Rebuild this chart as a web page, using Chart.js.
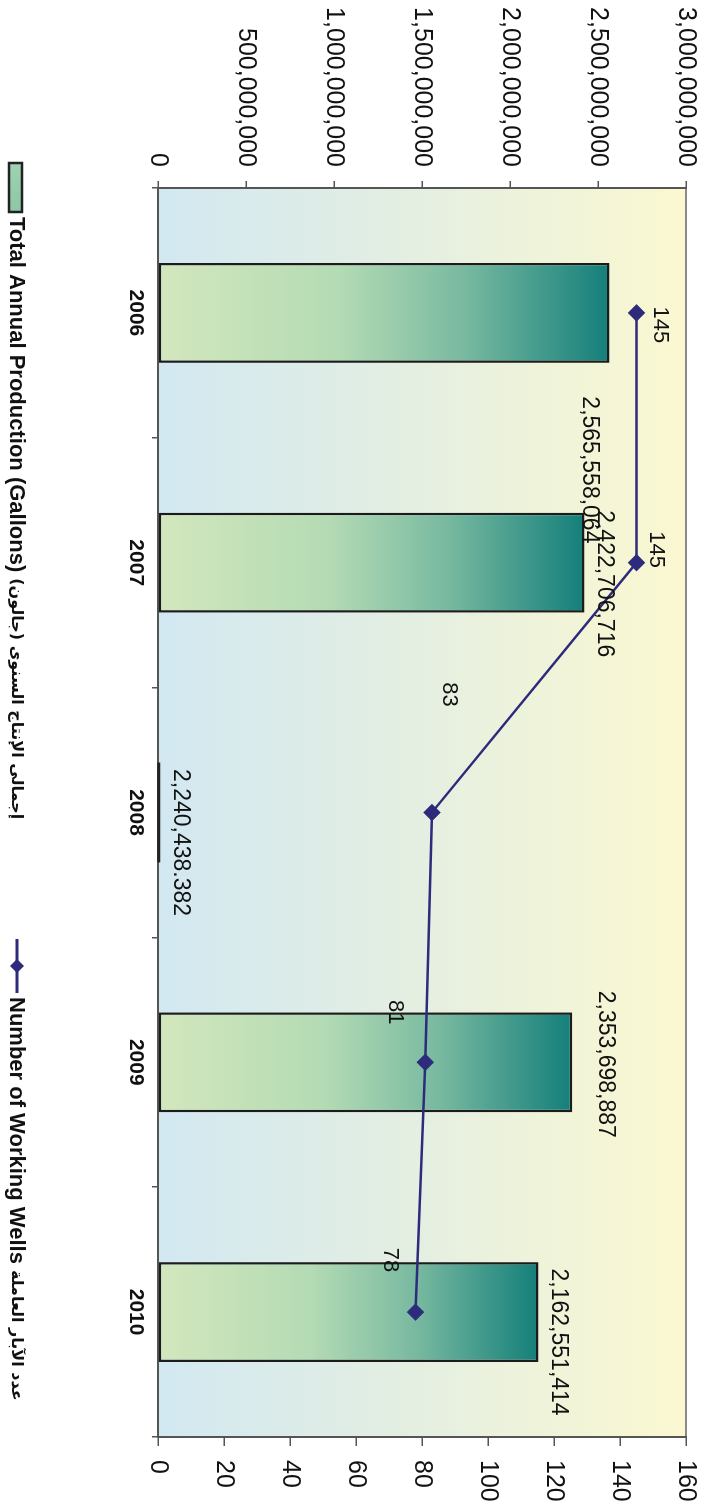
<!DOCTYPE html>
<html>
<head>
<meta charset="utf-8">
<script src="https://cdn.jsdelivr.net/npm/chart.js@4.4.1/dist/chart.umd.min.js"></script>
<style>
  html, body { margin:0; padding:0; background:#fff; overflow:hidden; }
  /* chart is drawn landscape, then turned a quarter clockwise like the scan */
  #wrap { position:absolute; left:0; top:0; width:1504px; height:707px;
          transform-origin:0 0; transform:translateX(707px) rotate(90deg); }
</style>
</head>
<body>
<div id="wrap"><canvas id="chart" width="1504" height="707"></canvas></div>
<script>
// DATA
const years = ['2006', '2007', '2008', '2009', '2010'];
const production = [2565558064, 2422706716, 2240438382, 2353698887, 2162551414];
const productionLabels = ['2,565,558,064', '2,422,706,716', '2,240,438.382', '2,353,698,887', '2,162,551,414'];
const wells = [145, 145, 83, 81, 78];
const prodAxis = { min: 0, max: 3000000000, step: 500000000 };
const wellsAxis = { min: 0, max: 160, step: 20 };
const legendText = [
  ['Total Annual Production (Gallons)', 'إجمالى الإنتاج السنوى (جالون)'],
  ['Number of Working Wells', 'عدد الآبار العاملة']
];

// the 2008 bar is missing in the source picture, only its label remains
const barDrawn = [true, true, false, true, true];

// label placement, as hand-moved in the original
const barLabelAnchor = ['top', 'top', 'base', 'top', 'top'];
const barLabelOffset = [[157, 20], [21, -20], [30, -22], [2, -33], [30, -20]];
const wellLabelOffset = [[12, -24], [-13, -20], [-118, -17], [-50, 30], [-52, 25]];

const FONT = '"Liberation Sans", Arial, "DejaVu Sans", sans-serif';
const LINE_COLOR = '#2e2b7c';
const AXIS_COLOR = '#555';

function barFill(ctx){
  if(!barDrawn[ctx.dataIndex]) return 'rgba(0,0,0,0)';
  const chart = ctx.chart;
  if(!chart.chartArea) return '#8cc4a6';
  const y = chart.scales.y;
  const base = y.getPixelForValue(0);
  const top = y.getPixelForValue(ctx.raw);
  const g = chart.ctx.createLinearGradient(0, base, 0, top);
  g.addColorStop(0, '#d3e7bd');
  g.addColorStop(0.4, '#b4dbb4');
  g.addColorStop(0.68, '#78b9a0');
  g.addColorStop(1, '#147f7a');
  return g;
}

// BACKGROUND + FRAME
const plotBg = {
  id: 'plotBg',
  beforeDraw(chart){
    const {ctx, chartArea: a} = chart;
    const g = ctx.createLinearGradient(0, a.bottom, 0, a.top);
    g.addColorStop(0, '#d2e8f1');
    g.addColorStop(0.5, '#e5efe1');
    g.addColorStop(1, '#fbf8d1');
    ctx.save();
    ctx.fillStyle = g;
    ctx.fillRect(a.left, a.top, a.right - a.left, a.bottom - a.top);
    ctx.strokeStyle = '#8a8a8a';
    ctx.lineWidth = 2;
    ctx.strokeRect(a.left, a.top, a.right - a.left, a.bottom - a.top);
    ctx.restore();
  }
};

// DATA LABELS
const valueLabels = {
  id: 'valueLabels',
  afterDatasetsDraw(chart){
    const ctx = chart.ctx;
    ctx.save();
    ctx.fillStyle = '#111';
    ctx.textAlign = 'center';
    ctx.textBaseline = 'middle';

    const bars = chart.getDatasetMeta(1).data;
    bars.forEach((el, i) => {
      if(!barDrawn[i]){
        ctx.strokeStyle = '#222';
        ctx.lineWidth = 3;
        ctx.beginPath();
        ctx.moveTo(el.x - el.width / 2, el.base);
        ctx.lineTo(el.x + el.width / 2, el.base);
        ctx.stroke();
      }
      ctx.font = '23px ' + FONT;
      const [dx, dy] = barLabelOffset[i];
      const y0 = barLabelAnchor[i] === 'base' ? el.base : el.y;
      ctx.fillText(productionLabels[i], el.x + dx, y0 + dy);
    });

    const pts = chart.getDatasetMeta(0).data;
    ctx.font = '22px ' + FONT;
    pts.forEach((el, i) => {
      const [dx, dy] = wellLabelOffset[i];
      ctx.fillText(String(wells[i]), el.x + dx, el.y + dy);
    });
    ctx.restore();
  }
};

// LEGEND
const legendBox = {
  id: 'legendBox',
  afterDraw(chart){
    const ctx = chart.ctx;
    const cy = 690;
    ctx.save();
    ctx.textBaseline = 'middle';
    ctx.fillStyle = '#111';

    // bar key
    const g = ctx.createLinearGradient(162, 0, 213, 0);
    g.addColorStop(0, '#9fd2b2');
    g.addColorStop(1, '#8cc7a6');
    ctx.fillStyle = g;
    ctx.fillRect(163, 685, 49, 13);
    ctx.strokeStyle = '#222';
    ctx.lineWidth = 2.5;
    ctx.strokeRect(163, 685, 49, 13);

    // line key
    ctx.strokeStyle = LINE_COLOR;
    ctx.fillStyle = LINE_COLOR;
    ctx.lineWidth = 3;
    ctx.beginPath();
    ctx.moveTo(939, cy); ctx.lineTo(993, cy);
    ctx.stroke();
    ctx.beginPath();
    ctx.moveTo(966 - 7, cy); ctx.lineTo(966, cy - 7); ctx.lineTo(966 + 7, cy); ctx.lineTo(966, cy + 7);
    ctx.closePath();
    ctx.fill();

    const starts = [217, 997];
    legendText.forEach(([en, ar], i) => {
      ctx.fillStyle = '#111';
      ctx.direction = 'ltr';
      ctx.textAlign = 'left';
      ctx.font = 'bold 22px ' + FONT;
      ctx.fillText(en, starts[i], cy + 1);
      const w = ctx.measureText(en).width;
      ctx.font = 'bold 16px "DejaVu Sans", sans-serif';
      ctx.direction = 'rtl';
      ctx.textAlign = 'left';
      ctx.fillText(ar, starts[i] + w + 6, cy + 1);
    });
    ctx.restore();
  }
};

// keep the plot frame where the original has it
function noEdgePad(s){ s.paddingTop = 0; s.paddingBottom = 0; }

// CHART
new Chart(document.getElementById('chart'), {
  data: {
    labels: years,
    datasets: [
      {
        type: 'line',
        label: legendText[1].join(' '),
        data: wells,
        yAxisID: 'y1',
        order: 0,
        borderColor: LINE_COLOR,
        borderWidth: 2.5,
        pointStyle: 'rectRot',
        pointRadius: 7,
        pointBackgroundColor: LINE_COLOR,
        pointBorderColor: LINE_COLOR,
        tension: 0
      },
      {
        type: 'bar',
        label: legendText[0].join(' '),
        data: production,
        yAxisID: 'y',
        order: 1,
        backgroundColor: barFill,
        borderColor: ctx => barDrawn[ctx.dataIndex] ? '#1c1c1c' : 'rgba(0,0,0,0)',
        borderWidth: 2.5,
        borderSkipped: false,
        barPercentage: 0.4,
        categoryPercentage: 1.0
      }
    ]
  },
  options: {
    responsive: false,
    animation: false,
    layout: { padding: { top: 21, left: 0, right: 0, bottom: 0 } },
    plugins: { legend: { display: false }, tooltip: { enabled: false } },
    scales: {
      x: {
        offset: true,
        grid: { offset: true, drawOnChartArea: false, tickLength: 6, color: AXIS_COLOR, lineWidth: 1.5 },
        border: { color: AXIS_COLOR, width: 2 },
        ticks: { font: { family: FONT, size: 21, weight: 'bold' }, color: '#111', padding: 4 },
        afterFit: s => { s.height = 158; s.paddingLeft = 0; s.paddingRight = 0; }
      },
      y: {
        position: 'left',
        min: prodAxis.min, max: prodAxis.max,
        grid: { drawOnChartArea: false, tickLength: 7, color: AXIS_COLOR, lineWidth: 1.5 },
        border: { color: AXIS_COLOR, width: 2 },
        ticks: {
          stepSize: prodAxis.step,
          font: { family: FONT, size: 25 }, color: '#111', padding: 14,
          callback: v => v.toLocaleString('en-US')
        },
        afterFit: s => { s.width = 188; noEdgePad(s); }
      },
      y1: {
        position: 'right',
        min: wellsAxis.min, max: wellsAxis.max,
        grid: { drawOnChartArea: false, tickLength: 9, color: AXIS_COLOR, lineWidth: 1.5 },
        border: { color: AXIS_COLOR, width: 2 },
        ticks: { stepSize: wellsAxis.step, font: { family: FONT, size: 25 }, color: '#111', padding: 14 },
        afterFit: s => { s.width = 67; noEdgePad(s); }
      }
    }
  },
  plugins: [plotBg, valueLabels, legendBox]
});
</script>
</body>
</html>
